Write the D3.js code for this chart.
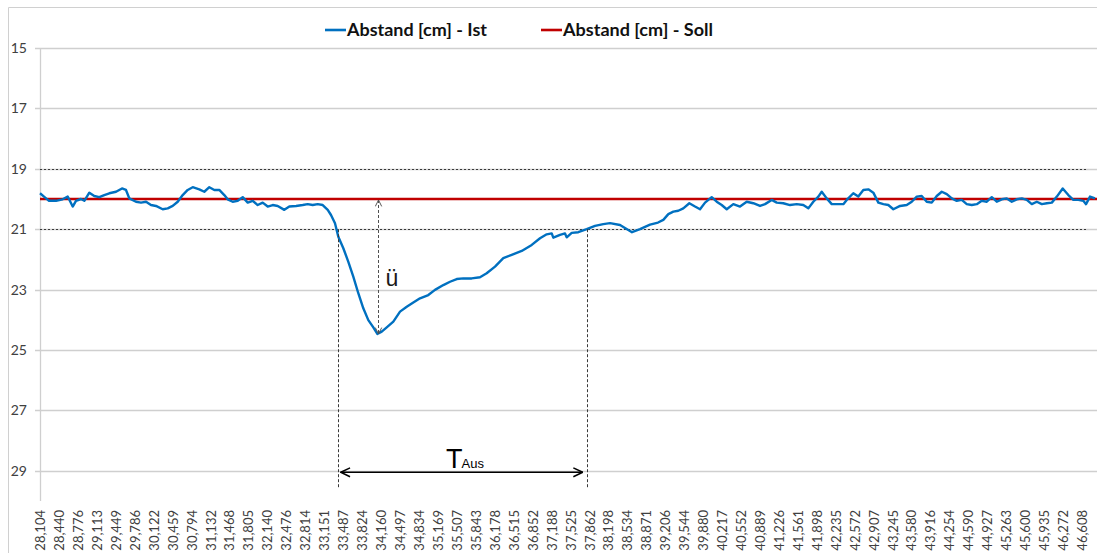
<!DOCTYPE html>
<html>
<head>
<meta charset="utf-8">
<script src="https://cdn.jsdelivr.net/npm/d3@7"></script>
<style>
  html, body { margin: 0; padding: 0; background: #fff; }
  svg { display: block; }
</style>
</head>
<body>
<svg id="chart" width="1097" height="553"></svg>
<script>
// Measured distance over time (seconds), target distance and tolerance band
const timeSec = [
  28.104, 28.175, 28.264, 28.388, 28.507, 28.596, 28.685, 28.743, 28.832, 28.891,
  28.980, 29.068, 29.157, 29.246, 29.335, 29.454, 29.560, 29.631, 29.690, 29.809,
  29.898, 29.987, 30.075, 30.164, 30.283, 30.372, 30.461, 30.550, 30.638, 30.727,
  30.816, 30.933, 31.022, 31.111, 31.200, 31.288, 31.377, 31.437, 31.526, 31.615,
  31.704, 31.793, 31.882, 31.970, 32.059, 32.148, 32.237, 32.326, 32.443, 32.532,
  32.651, 32.770, 32.858, 32.947, 33.036, 33.125, 33.214, 33.272, 33.343, 33.402,
  33.491, 33.580, 33.668, 33.757, 33.846, 33.935, 34.024, 34.095, 34.173, 34.262,
  34.379, 34.498, 34.617, 34.734, 34.853, 35.000, 35.119, 35.267, 35.386, 35.505,
  35.622, 35.771, 35.918, 36.037, 36.185, 36.332, 36.481, 36.659, 36.837, 36.984,
  37.103, 37.192, 37.220, 37.339, 37.428, 37.458, 37.547, 37.664, 37.813, 37.961,
  38.108, 38.227, 38.405, 38.618, 38.760, 38.938, 39.080, 39.174, 39.263, 39.352,
  39.440, 39.529, 39.636, 39.737, 39.826, 39.915, 40.033, 40.122, 40.211, 40.300,
  40.417, 40.536, 40.655, 40.772, 40.891, 40.980, 41.099, 41.188, 41.305, 41.424,
  41.543, 41.660, 41.749, 41.838, 41.927, 41.987, 42.076, 42.165, 42.282, 42.371,
  42.431, 42.548, 42.637, 42.726, 42.815, 42.904, 42.993, 43.082, 43.170, 43.259,
  43.378, 43.497, 43.586, 43.675, 43.763, 43.852, 43.941, 44.030, 44.119, 44.208,
  44.297, 44.385, 44.474, 44.563, 44.652, 44.741, 44.830, 44.919, 45.007, 45.096,
  45.185, 45.274, 45.363, 45.452, 45.541, 45.629, 45.718, 45.807, 45.896, 45.985,
  46.074, 46.163, 46.267, 46.367, 46.456, 46.544, 46.633, 46.681, 46.752, 46.841
];
const abstandIst = [
  19.81, 19.92, 20.06, 20.06, 20.01, 19.92, 20.25, 20.06, 20.00, 20.06,
  19.79, 19.90, 19.94, 19.87, 19.81, 19.76, 19.65, 19.70, 19.98, 20.09,
  20.12, 20.09, 20.20, 20.23, 20.34, 20.31, 20.23, 20.09, 19.87, 19.70,
  19.61, 19.68, 19.76, 19.61, 19.70, 19.70, 19.87, 20.01, 20.09, 20.06,
  19.94, 20.12, 20.06, 20.20, 20.12, 20.25, 20.20, 20.23, 20.36, 20.25,
  20.23, 20.20, 20.17, 20.20, 20.17, 20.20, 20.36, 20.53, 20.80, 21.25,
  21.63, 22.08, 22.57, 23.12, 23.62, 24.01, 24.25, 24.47, 24.39, 24.25,
  24.06, 23.73, 23.57, 23.43, 23.29, 23.18, 23.01, 22.85, 22.74, 22.65,
  22.63, 22.63, 22.59, 22.46, 22.24, 21.96, 21.85, 21.72, 21.52, 21.30,
  21.17, 21.14, 21.28, 21.19, 21.14, 21.27, 21.12, 21.10, 21.00, 20.89,
  20.83, 20.80, 20.86, 21.10, 21.00, 20.85, 20.78, 20.69, 20.50, 20.42,
  20.39, 20.31, 20.14, 20.25, 20.34, 20.12, 19.94, 20.09, 20.20, 20.34,
  20.17, 20.25, 20.09, 20.14, 20.23, 20.17, 20.03, 20.12, 20.14, 20.20,
  20.17, 20.20, 20.31, 20.09, 19.92, 19.76, 19.98, 20.17, 20.17, 20.17,
  20.03, 19.81, 19.92, 19.70, 19.68, 19.79, 20.12, 20.17, 20.20, 20.34,
  20.23, 20.20, 20.09, 19.92, 19.90, 20.09, 20.12, 19.90, 19.76, 19.84,
  19.98, 20.06, 20.03, 20.17, 20.20, 20.17, 20.06, 20.09, 19.94, 20.09,
  20.01, 19.98, 20.09, 20.01, 19.98, 20.03, 20.17, 20.09, 20.17, 20.14,
  20.12, 19.92, 19.65, 19.87, 20.03, 20.03, 20.06, 20.17, 19.92, 19.98
];
const abstandSoll = 20;
const toleranceLimits = [19, 21];
// Times where the measured distance leaves and re-enters the tolerance band
const leaveTime = 33.391;
const returnTime = 37.813;

const seriesNames = ["Abstand [cm] - Ist", "Abstand [cm] - Soll"];
const seriesColors = ["#0070c0", "#c00000"];

const yTicks = [15, 17, 19, 21, 23, 25, 27, 29];
const xTickLabels = [
  "28,104", "28,440", "28,776", "29,113", "29,449", "29,786", "30,122", "30,459",
  "30,794", "31,132", "31,468", "31,805", "32,140", "32,476", "32,814", "33,151",
  "33,487", "33,824", "34,160", "34,497", "34,834", "35,169", "35,507", "35,843",
  "36,178", "36,515", "36,852", "37,188", "37,525", "37,862", "38,198", "38,534",
  "38,871", "39,206", "39,544", "39,880", "40,217", "40,552", "40,889", "41,226",
  "41,561", "41,898", "42,235", "42,572", "42,907", "43,245", "43,580", "43,916",
  "44,254", "44,590", "44,927", "45,263", "45,600", "45,935", "46,272", "46,608"
];

const W = 1097, H = 553;
const plot = { left: 40, right: 1097, top: 48, bottom: 501 };

const svg = d3.select("#chart");
const parseLabel = s => +s.replace(",", ".");

const x = d3.scaleLinear()
  .domain([28.104, 46.876])
  .range([plot.left, plot.right]);
const y = d3.scaleLinear()
  .domain([15, 30])
  .range([plot.top, plot.bottom]);

// Chart frame
svg.append("path")
  .attr("d", `M8.5,${H} L8.5,7.5 L${W},7.5`)
  .attr("fill", "none")
  .attr("stroke", "#d0d0d0")
  .attr("stroke-width", 1);

// Horizontal gridlines
svg.append("g")
  .selectAll("line")
  .data(yTicks)
  .join("line")
  .attr("x1", plot.left - 5)
  .attr("x2", plot.right)
  .attr("y1", d => Math.round(y(d)) + 0.5)
  .attr("y2", d => Math.round(y(d)) + 0.5)
  .attr("stroke", "#cfcfcf")
  .attr("stroke-width", 1.3);

// Y axis
const yAxis = d3.axisLeft(y)
  .tickValues(yTicks)
  .tickSize(0)
  .tickPadding(13)
  .tickFormat(d3.format("d"));
const yG = svg.append("g")
  .attr("transform", `translate(${plot.left},0)`)
  .call(yAxis);
yG.select(".domain").remove();
yG.append("line")
  .attr("x1", 0.5).attr("x2", 0.5)
  .attr("y1", plot.top).attr("y2", plot.bottom)
  .attr("stroke", "#cfcfcf")
  .attr("stroke-width", 1.3);
yG.selectAll("text")
  .attr("font-family", "Lato, 'Open Sans', sans-serif")
  .attr("font-size", 14)
  .attr("fill", "#404040");

// X axis labels (rotated)
const xAxis = d3.axisBottom(x)
  .tickValues(xTickLabels.map(parseLabel))
  .tickSize(0)
  .tickFormat((d, i) => xTickLabels[i]);
const xG = svg.append("g")
  .attr("transform", `translate(0,${plot.bottom})`)
  .call(xAxis);
xG.select(".domain").remove();
xG.selectAll("text")
  .attr("font-family", "Lato, 'Open Sans', sans-serif")
  .attr("font-size", 13)
  .attr("fill", "#404040")
  .attr("text-anchor", "end")
  .attr("dy", "0.35em")
  .attr("transform", "translate(0,9) rotate(-90)")
  .attr("x", 0)
  .attr("y", 0);

// Tolerance band limits
svg.append("g")
  .selectAll("line")
  .data(toleranceLimits)
  .join("line")
  .attr("x1", plot.left)
  .attr("x2", 1086)
  .attr("y1", d => Math.round(y(d)) + 0.5)
  .attr("y2", d => Math.round(y(d)) + 0.5)
  .attr("stroke", "#3a3a3a")
  .attr("stroke-width", 1)
  .attr("stroke-dasharray", "2,2");

// Target distance
svg.append("line")
  .attr("x1", plot.left)
  .attr("x2", plot.right)
  .attr("y1", y(abstandSoll))
  .attr("y2", y(abstandSoll))
  .attr("stroke", seriesColors[1])
  .attr("stroke-width", 2.6);

// Measured distance
const points = timeSec.map((t, i) => ({ t, v: abstandIst[i] }));
const line = d3.line().x(d => x(d.t)).y(d => y(d.v));
svg.append("path")
  .datum(points)
  .attr("d", line)
  .attr("fill", "none")
  .attr("stroke", seriesColors[0])
  .attr("stroke-width", 2.4)
  .attr("stroke-linejoin", "round");

// Arrow markers
const defs = svg.append("defs");
defs.append("marker")
  .attr("id", "chevSmall")
  .attr("viewBox", "0 0 10 10")
  .attr("refX", 9).attr("refY", 5)
  .attr("markerWidth", 8).attr("markerHeight", 8)
  .attr("markerUnits", "userSpaceOnUse")
  .attr("orient", "auto-start-reverse")
  .append("path")
  .attr("d", "M1,1 L9,5 L1,9")
  .attr("fill", "none")
  .attr("stroke", "#505050")
  .attr("stroke-width", 1.2);
defs.append("marker")
  .attr("id", "chevBig")
  .attr("viewBox", "0 0 10 10")
  .attr("refX", 9.5).attr("refY", 5)
  .attr("markerWidth", 11).attr("markerHeight", 11)
  .attr("markerUnits", "userSpaceOnUse")
  .attr("orient", "auto-start-reverse")
  .append("path")
  .attr("d", "M1,1 L9.5,5 L1,9")
  .attr("fill", "none")
  .attr("stroke", "#000")
  .attr("stroke-width", 1.4);

// Vertical markers where the band is left and re-entered
svg.append("g")
  .selectAll("line")
  .data([leaveTime, returnTime])
  .join("line")
  .attr("x1", d => Math.round(x(d)) + 0.5)
  .attr("x2", d => Math.round(x(d)) + 0.5)
  .attr("y1", y(toleranceLimits[1]))
  .attr("y2", y(29.55))
  .attr("stroke", "#3a3a3a")
  .attr("stroke-width", 1)
  .attr("stroke-dasharray", "3,2");

// Overshoot ü: from target to the deepest point
const peak = points.reduce((a, b) => (b.v > a.v ? b : a));
const px = Math.round(x(peak.t)) + 1.5;
svg.append("line")
  .attr("x1", px).attr("x2", px)
  .attr("y1", y(abstandSoll) + 1)
  .attr("y2", y(peak.v))
  .attr("stroke", "#505050")
  .attr("stroke-width", 1)
  .attr("stroke-dasharray", "3,2")
  .attr("marker-start", "url(#chevSmall)")
  .attr("marker-end", "url(#chevSmall)");
svg.append("text")
  .attr("x", px + 7)
  .attr("y", y(22.87))
  .attr("font-family", "'Liberation Sans', Arial, sans-serif")
  .attr("font-size", 23)
  .attr("fill", "#1a1a1a")
  .text("ü");

// Time outside the band T_Aus
const tY = y(29.05);
svg.append("line")
  .attr("x1", x(leaveTime) + 3)
  .attr("x2", x(returnTime) - 4)
  .attr("y1", tY).attr("y2", tY)
  .attr("stroke", "#000")
  .attr("stroke-width", 1.6)
  .attr("marker-start", "url(#chevBig)")
  .attr("marker-end", "url(#chevBig)");
const tLabel = svg.append("text")
  .attr("x", 446)
  .attr("y", 468)
  .attr("font-family", "'Liberation Sans', Arial, sans-serif")
  .attr("fill", "#000");
tLabel.append("tspan").attr("font-size", 27).text("T");
tLabel.append("tspan").attr("font-size", 13).attr("dx", -1).text("Aus");

// Legend
const legendX = [325, 541];
const legendTextWidth = [140, 150];
const legend = svg.append("g")
  .selectAll("g")
  .data(seriesNames)
  .join("g")
  .attr("transform", (d, i) => `translate(${legendX[i]},30)`);
legend.append("line")
  .attr("x1", 0).attr("x2", 21)
  .attr("y1", 0).attr("y2", 0)
  .attr("stroke", (d, i) => seriesColors[i])
  .attr("stroke-width", 2.6);
legend.append("text")
  .attr("x", 22)
  .attr("y", 0)
  .attr("dy", "0.36em")
  .attr("font-family", "Lato, 'Open Sans', sans-serif")
  .attr("font-weight", "bold")
  .attr("font-size", 16.5)
  .attr("textLength", (d, i) => legendTextWidth[i])
  .attr("lengthAdjust", "spacingAndGlyphs")
  .attr("fill", "#111")
  .text(d => d);
</script>
</body>
</html>
